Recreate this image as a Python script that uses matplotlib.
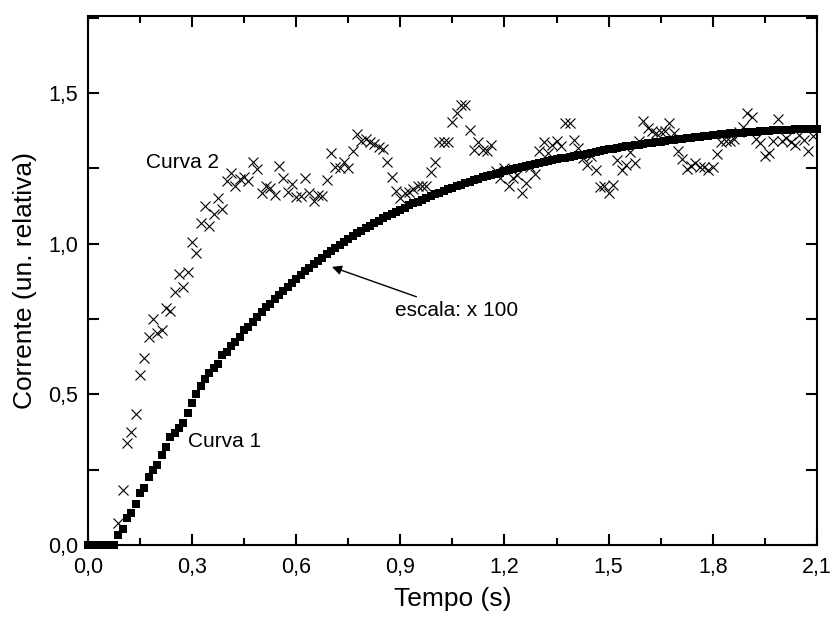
import numpy as np
import matplotlib
matplotlib.use("Agg")
import matplotlib.pyplot as plt
from matplotlib import font_manager
from matplotlib.ticker import MultipleLocator, FuncFormatter

# sampling step of both series (s)
dt = 0.0125

# Curva 1 (squares), one value per sample starting at t = 0
curva1 = [
    0.0, 0.0, 0.0, 0.0, 0.0, 0.0, 0.0,
    0.033, 0.052, 0.090, 0.105, 0.136, 0.172, 0.190, 0.226, 0.249, 0.266,
    0.300, 0.325, 0.358, 0.371, 0.388, 0.405, 0.438, 0.470, 0.500, 0.528,
    0.550, 0.570, 0.587, 0.600, 0.630, 0.640, 0.660, 0.675, 0.690, 0.714,
    0.724, 0.740, 0.757, 0.774, 0.790, 0.800, 0.815, 0.829, 0.843, 0.857,
    0.870, 0.883, 0.896, 0.908, 0.920, 0.932, 0.943, 0.954, 0.965, 0.976,
    0.986, 0.996, 1.006, 1.016, 1.025, 1.034, 1.043, 1.052, 1.060, 1.068,
    1.076, 1.084, 1.092, 1.099, 1.106, 1.113, 1.120, 1.127, 1.134, 1.140,
    1.146, 1.152, 1.158, 1.164, 1.170, 1.176, 1.181, 1.186, 1.191, 1.196,
    1.201, 1.206, 1.211, 1.215, 1.220, 1.224, 1.228, 1.232, 1.236, 1.240,
    1.244, 1.248, 1.252, 1.255, 1.259, 1.262, 1.265, 1.268, 1.271, 1.274,
    1.277, 1.280, 1.283, 1.286, 1.289, 1.291, 1.294, 1.296, 1.299, 1.301,
    1.305, 1.308, 1.311, 1.313, 1.315, 1.318, 1.320, 1.323, 1.325, 1.327,
    1.329, 1.331, 1.333, 1.335, 1.337, 1.339, 1.341, 1.343, 1.345, 1.347,
    1.349, 1.350, 1.352, 1.354, 1.355, 1.357, 1.358, 1.360, 1.361, 1.363,
    1.364, 1.366, 1.367, 1.368, 1.369, 1.370, 1.371, 1.372, 1.373, 1.374,
    1.375, 1.376, 1.377, 1.378, 1.378, 1.379, 1.380, 1.380, 1.381, 1.381,
    1.382, 1.382,
]

# Curva 2 (crosses), first sample index 7
curva2_start = 7
curva2 = [
    0.072, 0.183, 0.338, 0.376, 0.434, 0.564, 0.620, 0.690, 0.749, 0.703,
    0.715, 0.786, 0.777, 0.839, 0.898, 0.857, 0.905, 1.005, 0.970, 1.070,
    1.125, 1.059, 1.097, 1.153, 1.115, 1.209, 1.236, 1.190, 1.214, 1.223,
    1.208, 1.270, 1.247, 1.170, 1.190, 1.184, 1.162, 1.259, 1.217, 1.173,
    1.198, 1.156, 1.158, 1.217, 1.169, 1.142, 1.162, 1.158, 1.211, 1.300,
    1.254, 1.250, 1.272, 1.250, 1.308, 1.363, 1.341, 1.347, 1.339, 1.330,
    1.322, 1.314, 1.272, 1.222, 1.175, 1.151, 1.167, 1.173, 1.180, 1.190,
    1.190, 1.190, 1.239, 1.272, 1.336, 1.339, 1.339, 1.405, 1.433, 1.460,
    1.460, 1.377, 1.311, 1.336, 1.311, 1.308, 1.328, 1.243, 1.217, 1.250,
    1.191, 1.217, 1.228, 1.167, 1.200, 1.256, 1.231, 1.309, 1.339, 1.300,
    1.328, 1.342, 1.325, 1.400, 1.400, 1.344, 1.317, 1.283, 1.261, 1.291,
    1.245, 1.187, 1.191, 1.167, 1.195, 1.278, 1.245, 1.261, 1.305, 1.267,
    1.342, 1.407, 1.383, 1.375, 1.368, 1.372, 1.375, 1.400, 1.367, 1.308,
    1.281, 1.247, 1.258, 1.267, 1.254, 1.254, 1.245, 1.254, 1.298, 1.339,
    1.340, 1.342, 1.347, 1.372, 1.388, 1.433, 1.422, 1.347, 1.334, 1.291,
    1.300, 1.342, 1.413, 1.342, 1.350, 1.339, 1.328, 1.361, 1.345, 1.308,
    1.358,
]

t1 = np.arange(len(curva1)) * dt
t2 = (curva2_start + np.arange(len(curva2))) * dt

# font: narrow Arial look if present
names = {f.name for f in font_manager.fontManager.ttflist}
fam = "Liberation Sans Narrow" if "Liberation Sans Narrow" in names else "Liberation Sans"
plt.rcParams['font.family'] = [fam, 'DejaVu Sans']

fig = plt.figure(figsize=(8.33, 6.25), dpi=100)
ax = fig.add_axes([0.1056, 0.128, 0.875, 0.846])

ax.plot(t1, curva1, 's', color='black', markersize=6, markeredgewidth=0, clip_on=False)
ax.plot(t2, curva2, 'x', color='black', markersize=6.5, markeredgewidth=0.8)

ax.set_xlim(0, 2.1)
ax.set_ylim(0, 1.755)

ax.xaxis.set_major_locator(MultipleLocator(0.3))
ax.xaxis.set_minor_locator(MultipleLocator(0.15))
ax.yaxis.set_major_locator(MultipleLocator(0.5))
ax.yaxis.set_minor_locator(MultipleLocator(0.25))

comma = FuncFormatter(lambda v, p: ('%.1f' % v).replace('.', ','))
ax.xaxis.set_major_formatter(comma)
ax.yaxis.set_major_formatter(comma)

for s in ax.spines.values():
    s.set_linewidth(1.5)

ax.tick_params(axis='both', which='both', direction='in', top=True, right=True, width=1.5)
ax.tick_params(axis='x', which='major', length=8, labelsize=15.5, pad=9)
ax.tick_params(axis='x', which='minor', length=5)
ax.tick_params(axis='y', which='both', length=8, labelsize=15.5, pad=7)

ax.set_xlabel('Tempo (s)', fontsize=19, labelpad=6)
ax.set_ylabel('Corrente (un. relativa)', fontsize=19, labelpad=8)

ax.text(0.167, 1.27, 'Curva 2', fontsize=15, va='center', ha='left')
ax.text(0.288, 0.342, 'Curva 1', fontsize=15, va='center', ha='left')
ax.annotate('escala: x 100', xy=(0.703, 0.923), xytext=(0.884, 0.777),
            fontsize=15, va='center', ha='left',
            arrowprops=dict(arrowstyle='-|>', color='black', lw=1,
                            mutation_scale=14, shrinkA=4, shrinkB=0))

fig.savefig('out.png', dpi=100)
